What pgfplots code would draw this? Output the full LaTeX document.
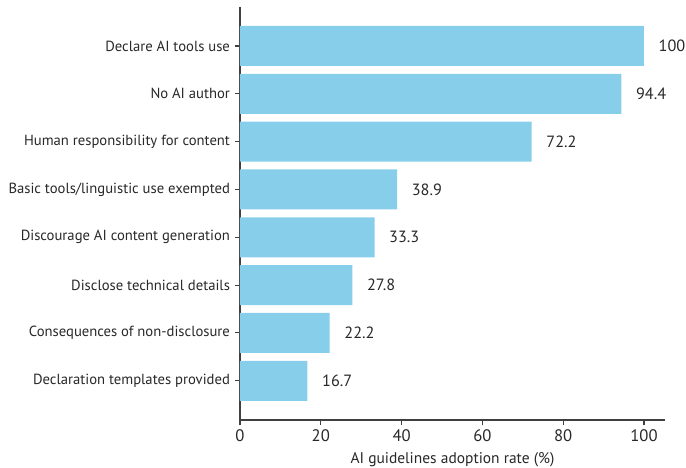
\documentclass[border=0pt]{standalone}
\usepackage{pgfplots}
\pgfplotsset{compat=1.18}
\usepackage{fontspec}
\setmainfont{PT Sans}
\definecolor{barblue}{RGB}{135,206,235}
\definecolor{axisgray}{RGB}{64,64,64}
\definecolor{txt}{RGB}{40,40,40}
\begin{document}
\begin{tikzpicture}
\path[use as bounding box] (-180pt,-36pt) rectangle (334.5pt,315pt);
\begin{axis}[
  at={(0,0)}, anchor=south west,
  scale only axis,
  width=318.75pt, height=309.75pt,
  xbar, bar width=0.836,
  bar shift=0pt,
  xmin=0, xmax=105.2,
  ymin=-0.82, ymax=7.815,
  axis x line*=bottom, axis y line*=left,
  axis line style={axisgray, line width=1.1pt},
  xtick={0,20,40,60,80,100},
  ytick={0,...,7},
  yticklabels={Declaration templates provided, Consequences of non-disclosure, Disclose technical details, Discourage AI content generation, Basic tools/linguistic use exempted, Human responsibility for content, No AI author, Declare AI tools use},
  tick style={axisgray, line width=0.8pt},
  tick align=outside,
  major tick length=4pt,
  yticklabel style={font=\fontsize{11.0}{13}\selectfont, text=txt},
  xticklabel style={font=\fontsize{12.5}{14}\selectfont, text=txt},
  /pgf/number format/assume math mode=true,
  xlabel={AI guidelines adoption rate (\%)},
  xlabel style={font=\fontsize{11.6}{13}\selectfont, text=txt, yshift=-1pt},
  nodes near coords,
  nodes near coords style={font=\fontsize{12.2}{14}\selectfont, text=txt, anchor=west, xshift=7.5pt},
  point meta=explicit symbolic,
  clip=false,
]
\addplot[fill=barblue, draw=none] coordinates {
  (16.7,0) [16.7]
  (22.2,1) [22.2]
  (27.8,2) [27.8]
  (33.3,3) [33.3]
  (38.9,4) [38.9]
  (72.2,5) [72.2]
  (94.4,6) [94.4]
  (100,7) [100]
};
\end{axis}
\end{tikzpicture}
\end{document}
